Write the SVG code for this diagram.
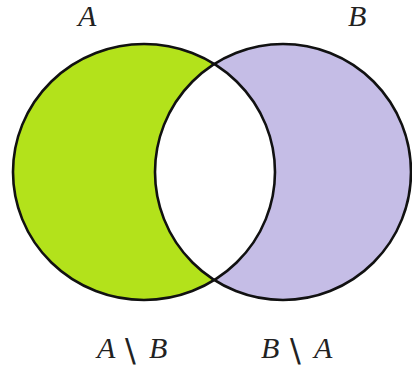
<svg xmlns="http://www.w3.org/2000/svg" width="412" height="372" viewBox="0 0 412 372">
<style>
.lbl{font-family:"Liberation Serif","DejaVu Serif",serif;font-style:italic;font-size:30px;fill:#222;}
.bs{font-family:"DejaVu Sans","Liberation Sans",sans-serif;font-size:32px;fill:#222;}
.edge{fill:none;stroke:#111;stroke-width:2.6;}
</style>
<defs>
<clipPath id="clipA"><ellipse cx="144" cy="172" rx="131" ry="128"/></clipPath>
</defs>
<rect width="412" height="372" fill="#fff"/>
<g id="setA"><ellipse cx="144" cy="172" rx="131" ry="128" fill="#b3e21b"/></g>
<g id="setB"><ellipse cx="283" cy="172" rx="128" ry="128" fill="#c5bde6"/></g>
<g id="intersection"><ellipse cx="283" cy="172" rx="128" ry="128" fill="#fff" clip-path="url(#clipA)"/></g>
<g id="outlines">
<ellipse class="edge" cx="144" cy="172" rx="131" ry="128"/>
<ellipse class="edge" cx="283" cy="172" rx="128" ry="128"/>
</g>
<g id="labels">
<text class="lbl" x="78" y="26">A</text>
<text class="lbl" x="348" y="26">B</text>
<text class="lbl" x="97" y="358">A</text>
<text class="bs" x="125" y="361">\</text>
<text class="lbl" x="149" y="358">B</text>
<text class="lbl" x="261" y="358">B</text>
<text class="bs" x="290" y="361">\</text>
<text class="lbl" x="314" y="358">A</text>
</g>
</svg>
